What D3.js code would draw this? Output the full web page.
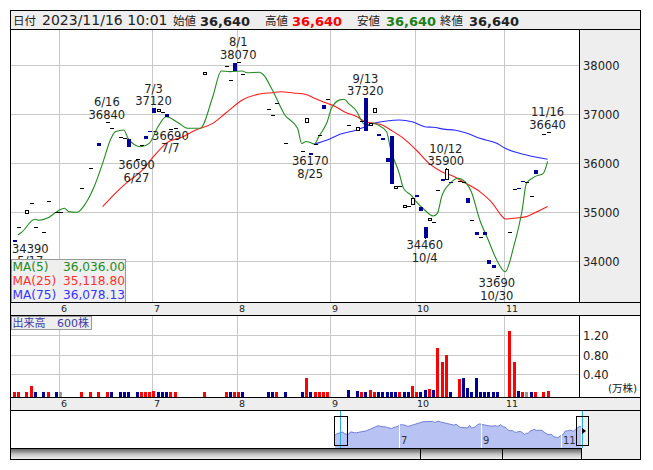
<!DOCTYPE html>
<html><head><meta charset="utf-8">
<script src="https://cdn.jsdelivr.net/npm/d3@7/dist/d3.min.js"></script>
<style>
html,body{margin:0;padding:0;background:#fff;}
svg{display:block;font-family:"DejaVu Sans","Noto Sans CJK JP",sans-serif;}
</style></head><body>
<svg id="chart" width="653" height="470"></svg>
<script>
// ---------- DATA ----------
const tradingDays = ["5/17","5/18","5/19","5/22","5/23","5/24","5/25","5/26","5/29","5/30","5/31",
"6/1","6/2","6/5","6/6","6/7","6/8","6/9","6/12","6/13","6/14","6/15","6/16","6/19","6/20","6/21","6/22","6/23","6/26","6/27","6/28","6/29","6/30",
"7/3","7/4","7/5","7/6","7/7","7/10","7/11","7/12","7/13","7/14","7/18","7/19","7/20","7/21","7/24","7/25","7/26","7/27","7/28","7/31",
"8/1","8/2","8/3","8/4","8/7","8/8","8/9","8/10","8/14","8/15","8/16","8/17","8/18","8/21","8/22","8/23","8/24","8/25","8/28","8/29","8/30","8/31",
"9/1","9/4","9/5","9/6","9/7","9/8","9/11","9/12","9/13","9/14","9/15","9/19","9/20","9/21","9/22","9/25","9/26","9/27","9/28","9/29",
"10/2","10/3","10/4","10/5","10/6","10/10","10/11","10/12","10/13","10/16","10/17","10/18","10/19","10/20","10/23","10/24","10/25","10/26","10/27","10/30","10/31",
"11/1","11/2","11/6","11/7","11/8","11/9","11/10","11/13","11/14","11/15","11/16"];
const monthStarts = ["6/1","7/3","8/1","9/1","10/2","11/1"];
const monthLabels = ["6","7","8","9","10","11"];
const priceTicks = [34000,35000,36000,37000,38000];
const volTicks = [4000,8000,12000];
const volTickLabels = ["0.40","0.80","1.20"];
const navMonthStarts = ["7/3","9/1","11/1"];
const navMonthLabels = ["7","9","11"];

const cDate = ["5/17","5/18","5/22","5/23","5/24","5/26","5/29","5/31","6/1","6/8",
"6/12","6/14","6/16","6/19","6/21","6/22","6/23","6/27","6/28","6/29",
"6/30","7/3","7/4","7/5","7/6","7/7","7/10","7/20","7/27","7/28",
"7/31","8/1","8/2","8/10","8/14","8/15","8/17","8/23","8/24","8/25",
"8/28","8/29","8/30","8/31","9/7","9/11","9/12","9/13","9/14","9/15",
"9/19","9/20","9/21","9/22","9/25","9/26","9/27","9/28","9/29","10/2",
"10/3","10/4","10/5","10/6","10/10","10/11","10/12","10/13","10/17","10/18",
"10/19","10/20","10/23","10/24","10/25","10/26","10/27","10/30","11/2","11/6",
"11/7","11/8","11/9","11/10","11/13","11/15","11/16"];
const cOpen = [34430,34700,34990,35180,34690,34590,35220,35000,35000,35490,
35900,36410,36830,36710,36530,36520,36500,36090,36370,36550,
36650,37120,37055,37050,37000,36690,36720,37825,37970,37695,
38040,38060,37820,37100,36980,37230,36410,36250,36840,36200,
36400,36570,37190,37300,36780,36680,36860,37320,36800,37050,
36590,36510,36110,36560,35500,35530,35100,35120,35165,35350,
35100,34700,34850,34810,35450,35670,35670,35620,35640,35610,
35280,34840,34600,34500,34590,34025,33925,33700,34600,35480,
35485,35640,35615,35340,35860,36600,36640];
const cHigh = [34440,34700,35050,35180,34690,34590,35220,35000,35000,35490,
35900,36410,36840,36710,36530,36520,36500,36090,36370,36550,
36650,37120,37100,37050,37000,36690,36720,37865,37970,37695,
38040,38070,37820,37100,36980,37230,36410,36250,36930,36200,
36400,36570,37190,37300,36780,36730,36860,37320,36820,37115,
36590,36510,36110,36560,35530,35530,35140,35120,35285,35350,
35100,34700,34890,34810,35450,35670,35900,35620,35640,35610,
35280,34840,34600,34500,34590,34025,33925,33700,34600,35480,
35485,35640,35615,35340,35860,36600,36640];
const cLow = [34390,34700,34990,35180,34690,34590,35220,35000,35000,35490,
35900,36350,36830,36710,36530,36520,36330,36090,36370,36500,
36630,37020,37055,37050,36940,36690,36720,37825,37970,37695,
37880,38060,37820,37100,36980,37230,36410,36250,36840,36170,
36400,36570,37100,37300,36780,36680,36860,36660,36800,37050,
36560,36480,36020,35580,35500,35530,35100,35120,35165,35315,
35030,34460,34850,34810,35450,35640,35670,35600,35640,35610,
35180,34840,34540,34470,34535,33940,33860,33690,34600,35480,
35465,35615,35615,35340,35780,36600,36640];
const cClose = [34400,34700,35050,35180,34690,34590,35220,35000,35000,35490,
35900,36350,36830,36710,36530,36520,36330,36090,36370,36500,
36630,37020,37100,37050,36940,36690,36720,37865,37970,37695,
37880,38060,37820,37100,36980,37230,36410,36250,36930,36175,
36400,36570,37100,37300,36780,36730,36860,36660,36820,37115,
36560,36480,36020,35580,35530,35530,35140,35120,35285,35315,
35030,34470,34890,34810,35450,35640,35880,35600,35640,35610,
35180,34840,34540,34500,34535,33940,33860,33700,34600,35480,
35465,35615,35615,35340,35780,36600,36640];
const cVolume = [300,300,300,1600,300,300,300,300,300,300,
300,300,300,300,300,300,300,300,300,300,
300,500,300,300,300,300,300,300,300,300,
300,300,300,300,300,300,300,300,3300,300,
300,450,400,300,800,600,300,400,800,300,
300,300,300,300,300,300,300,300,1600,300,
300,800,1000,800,9300,6400,7900,300,3000,3300,
1300,300,3300,450,300,300,300,300,12800,6600,
600,300,300,400,300,300,600];
const cVolDir = ["u","u","u","u","d","d","u","d","n","u",
"u","u","u","d","d","d","d","d","u","u",
"u","u","d","d","d","u","u","u","u","d",
"u","u","d","d","d","u","d","d","u","d",
"u","u","u","u","d","d","u","d","u","u",
"d","d","d","d","d","u","d","d","u","u",
"d","d","u","d","u","u","u","d","u","d",
"d","d","d","d","d","d","d","d","u","u",
"d","u","n","d","u","u","u"];

const ma5 = [["5/18",34535],["5/19",34600],["5/24",34856],["5/25",34835],["5/29",34880],["5/31",34998],["6/2",35080],["6/5",35012],["6/7",35000],["6/9",35182],["6/13",35520],["6/15",35996],["6/19",36506],["6/20",36640],["6/22",36675],["6/23",36506],["6/28",36335],["6/30",36404],["7/4",36730],["7/6",36946],["7/11",36811],["7/13",36710],["7/19",36710],["7/24",37354],["7/26",37878],["7/28",37865],["8/2",37878],["8/3",37843],["8/8",37851],["8/9",37796],["8/14",37500],["8/17",36981],["8/22",36710],["8/23",36400],["8/24",36440],["8/25",36420],["8/28",36390],["8/29",36540],["8/30",36675],["8/31",36845],["9/1",37117],["9/5",37290],["9/6",37301],["9/7",37219],["9/11",37048],["9/12",36879],["9/13",36777],["9/15",36811],["9/19",36777],["9/21",36641],["9/22",36268],["9/26",35793],["9/27",35487],["9/29",35330],["10/2",35214],["10/4",35045],["10/6",34923],["10/10",34978],["10/11",35317],["10/13",35589],["10/17",35691],["10/18",35657],["10/20",35419],["10/24",34841],["10/26",34433],["10/30",34026],["11/1",33788],["11/6",34297],["11/8",35045],["11/9",35589],["11/13",35725],["11/15",35793],["11/16",36036]];
const ma25 = [["6/15",35113],["6/20",35386],["6/23",35622],["6/28",35826],["7/3",36131],["7/6",36404],["7/12",36540],["7/18",36675],["7/24",36811],["7/27",37016],["8/2",37287],["8/8",37409],["8/14",37436],["8/16",37456],["8/21",37430],["8/24",37400],["8/28",37321],["8/31",37219],["9/4",37151],["9/6",37048],["9/11",36946],["9/13",36845],["9/15",36811],["9/20",36777],["9/22",36675],["9/27",36506],["10/2",36268],["10/5",35996],["10/11",35826],["10/16",35724],["10/18",35622],["10/24",35419],["10/27",35182],["10/31",34943],["11/1",34862],["11/6",34876],["11/9",34910],["11/13",34991],["11/16",35119]];
const ma75 = [["8/28",36390],["8/31",36472],["9/5",36588],["9/11",36675],["9/13",36743],["9/15",36811],["9/21",36858],["9/26",36879],["9/29",36845],["10/4",36743],["10/6",36730],["10/12",36689],["10/16",36675],["10/19",36608],["10/24",36506],["10/30",36404],["11/1",36302],["11/9",36166],["11/16",36078]];

const hiDates = ["6/16","7/3","8/1","9/13","10/12","11/16"];
const hiValues = [36840,37120,38070,37320,35900,36640];
const loDates = ["5/17","6/27","7/7","8/25","10/4","10/30"];
const loValues = [34390,36090,36690,36170,34460,33690];

const legendNames = ["MA(5)","MA(25)","MA(75)"];
const legendValues = ["36,036.00","35,118.80","36,078.13"];
const headerDate = "2023/11/16 10:01";
const headerOHLC = ["36,640","36,640","36,640","36,640"];
const lastVolumeText = "600株";

// ---------- DRAW ----------
const svg = d3.select('#chart');
const NAVY='#000099', RED='#ff0000', GRN='#228b22', GRID='#c8c8c8', PANEL='#eeeeee';
const L=10.5, PR=579.5, RR=640.5;
const mainTop=29.5, mainBot=302.5, volTop=315.5, volBot=397.5, s2Bot=410.5, navBot=448.5, sbBot=459.5;

const x = d3.scalePoint().domain(tradingDays).range([13.6, 547.6]);
const y = d3.scaleLinear().domain([34000,38000]).range([261.3,65]);
const yv = d3.scaleLinear().domain([0,12000]).range([393.9,335]);
const gx = d => Math.round(x(d)-1.5)+0.5;

function rect(g,x0,y0,w,h,fill,stroke){ return g.append('rect').attr('x',x0).attr('y',y0).attr('width',w).attr('height',h).attr('fill',fill).attr('stroke',stroke||'none').attr('shape-rendering','crispEdges'); }
function line(g,x1,y1,x2,y2,col,w){ return g.append('line').attr('x1',x1).attr('y1',y1).attr('x2',x2).attr('y2',y2).attr('stroke',col).attr('stroke-width',w||1).attr('shape-rendering','crispEdges'); }
function text(g,t,x0,y0,size,col,anchor,weight){ return g.append('text').attr('x',x0).attr('y',y0).attr('font-size',size).attr('fill',col||'#222').attr('text-anchor',anchor||'start').attr('font-weight',weight||'normal').text(t); }

const defs = svg.append('defs');
defs.append('clipPath').attr('id','clipMain').append('rect').attr('x',11).attr('y',30).attr('width',568).attr('height',272);
defs.append('clipPath').attr('id','clipVol').append('rect').attr('x',11).attr('y',316).attr('width',568).attr('height',81);
const grad = defs.append('linearGradient').attr('id','sb').attr('x1',0).attr('y1',0).attr('x2',0).attr('y2',1);
grad.append('stop').attr('offset','0').attr('stop-color','#5a5a5a');
grad.append('stop').attr('offset','0.55').attr('stop-color','#c8c8c8');
grad.append('stop').attr('offset','1').attr('stop-color','#f4f4f4');

// header
rect(svg,L,10.5,630,19,PANEL,'#000');
text(svg,'日付',13,25,11.5,'#222');
text(svg,headerDate,42,25,14,'#222');
const hv = [[173,200,'#222'],[265,292,RED],[357,386,'#1a801a'],[440,469,'#222']];
const hn = ['始値','高値','安値','終値'];
hv.forEach((p,i)=>{
  text(svg,hn[i],p[0],25,11.5,'#222');
  text(svg,headerOHLC[i],p[1],25.5,13,p[2],'start','bold').attr('textLength',50).attr('lengthAdjust','spacingAndGlyphs');
});

// main panel
rect(svg,L,mainTop,PR-L,mainBot-mainTop,'#fff','#000');
rect(svg,PR,mainTop,RR-PR,mainBot-mainTop,PANEL,'#000');
const gGrid = svg.append('g');
priceTicks.forEach(v=>{ const yy=Math.round(y(v))+0.5; line(gGrid,11,yy,579,yy,GRID); text(svg,String(v),583,yy+4,11.5,'#222'); });
monthStarts.forEach(d=>{ line(gGrid,gx(d),30,gx(d),302,GRID); });

const gm = svg.append('g').attr('clip-path','url(#clipMain)');
const lineGen = d3.line().x(p=>x(p[0])).y(p=>y(p[1])).curve(d3.curveMonotoneX);
gm.append('path').attr('d',lineGen(ma75)).attr('fill','none').attr('stroke','#2a2aff').attr('stroke-width',1.1);
gm.append('path').attr('d',lineGen(ma25)).attr('fill','none').attr('stroke','#ff1a1a').attr('stroke-width',1.1);
gm.append('path').attr('d',lineGen(ma5)).attr('fill','none').attr('stroke',GRN).attr('stroke-width',1.1);

// candles
cDate.forEach((d,i)=>{
  const cx=Math.round(x(d)), o=cOpen[i], h=cHigh[i], l=cLow[i], c=cClose[i];
  const down=c<o, col=down?NAVY:'#000';
  if (h>Math.max(o,c) || l<Math.min(o,c)) line(gm,cx+0.5,y(h),cx+0.5,y(l),col);
  if (c===o) {
    line(gm,cx-1.5,Math.round(y(c))+0.5,cx+2.5,Math.round(y(c))+0.5,'#000',1);
  } else if (down) {
    const y0=Math.round(y(o)), y1=Math.max(y0+1,Math.round(y(c)));
    rect(gm,cx-1.5,y0,4,y1-y0,NAVY);
  } else {
    const y0=Math.round(y(c))+0.5, y1=Math.max(y0+2,Math.round(y(o))+0.5);
    rect(gm,cx-1,y0,3,y1-y0,'#fff','#000');
  }
});

// hi / lo labels
const gl = svg.append('g').attr('clip-path','url(#clipMain)');
function placeLabel(cx, lines){
  const g = gl.append('g');
  const ts = lines.map(([t,yy])=>text(g,t,cx,yy,11.5,'#222','middle'));
  const w = d3.max(ts,t=>t.node().getComputedTextLength());
  let shift=0;
  if (cx-w/2<12) shift=12-(cx-w/2);
  if (cx+w/2>577) shift=577-(cx+w/2);
  g.attr('transform',`translate(${shift},0)`);
}
hiDates.forEach((d,i)=>{ const yy=y(hiValues[i]); placeLabel(x(d),[[d,yy-15.5],[String(hiValues[i]),yy-3]]); });
loDates.forEach((d,i)=>{ const yy=y(loValues[i]); placeLabel(x(d),[[String(loValues[i]),yy+10.5],[d,yy+23]]); });

// legend
const lg = svg.append('g');
rect(lg,11.5,259.5,114,42.5,'#eeeeee','#999').attr('fill-opacity',0.94);
const legCols = [GRN,'#ff3030','#3535ff'];
legendNames.forEach((n,i)=>{
  text(lg,n,12.5,271+i*13.8,12.2,legCols[i]);
  text(lg,legendValues[i],125,271+i*13.8,12.2,legCols[i],'end');
});

// date strip 1
rect(svg,L,mainBot,RR-L,volTop-mainBot,PANEL,'#000');
monthStarts.forEach((d,i)=>text(svg,monthLabels[i],gx(d)+1.5,311.8,9.5,'#222'));

// volume panel
rect(svg,L,volTop,PR-L,volBot-volTop,'#fff','#000');
rect(svg,PR,volTop,RR-PR,volBot-volTop,'#fff','#000');
volTicks.forEach((v,i)=>{ const yy=Math.round(yv(v))+0.5; line(svg,11,yy,579,yy,GRID); text(svg,volTickLabels[i],583,yy+4.5,11.5,'#222'); });
monthStarts.forEach(d=>line(svg,gx(d),316,gx(d),397,GRID));
text(svg,'(万株)',608,392,10.5,'#222');
const gv = svg.append('g').attr('clip-path','url(#clipVol)');
const volCol = {u:RED,d:NAVY,n:'#999999'};
cDate.forEach((d,i)=>{
  const cx=Math.round(x(d)); const top=Math.round(yv(cVolume[i]));
  rect(gv,cx-1,top,3,397-top,volCol[cVolDir[i]]);
});
const vb = svg.append('g');
rect(vb,11.5,316,79.5,13.5,'#eeeeee','#999');
text(vb,'出来高',12.5,327.3,11,'#3b3ba8');
text(vb,lastVolumeText,57,327.3,11,'#3b3ba8');

// date strip 2
rect(svg,L,volBot,RR-L,s2Bot-volBot,PANEL,'#000');
monthStarts.forEach((d,i)=>text(svg,monthLabels[i],gx(d)+1.5,406.5,9.5,'#222'));

// navigator
rect(svg,L,s2Bot,RR-L,sbBot-s2Bot,'#fff','#000');
rect(svg,581,s2Bot+0.5,59,sbBot-s2Bot-1,PANEL);
const nx = d3.scalePoint().domain(tradingDays).range([335,581]);
const ny = d3.scaleLinear().domain([33690,38070]).range([437.7,421]);
const navPts = cDate.map((d,i)=>[d,cClose[i]]);
svg.append('path').attr('d',d3.area().x(p=>nx(p[0])).y0(448).y1(p=>ny(p[1]))(navPts)).attr('fill','#b9c3f3');
svg.append('path').attr('d',d3.line().x(p=>nx(p[0])).y(p=>ny(p[1]))(navPts)).attr('fill','none').attr('stroke','#6f7fd6').attr('stroke-width',1);
navMonthStarts.forEach((d,i)=>{
  const xx=Math.round(nx(d))+0.5;
  line(svg,xx,418,xx,448,'#fff',1.5);
  text(svg,navMonthLabels[i],xx+1.5,444,10,'#333');
});
line(svg,340.5,411,340.5,448,'#2aa8e0');
line(svg,582.5,411,582.5,448,'#2aa8e0');
rect(svg,334.5,416.5,13,29,'none','#000');
rect(svg,576.5,416.5,12,29,'none','#000');
svg.append('path').attr('d','M582,428 L586,431 L582,434 Z').attr('fill','#000');
// scrollbar
rect(svg,L,navBot,581-L,sbBot-navBot,'url(#sb)','#000');
line(svg,420.5,navBot,420.5,sbBot,'#000');
line(svg,502.5,navBot,502.5,sbBot,'#000');
</script></body></html>
